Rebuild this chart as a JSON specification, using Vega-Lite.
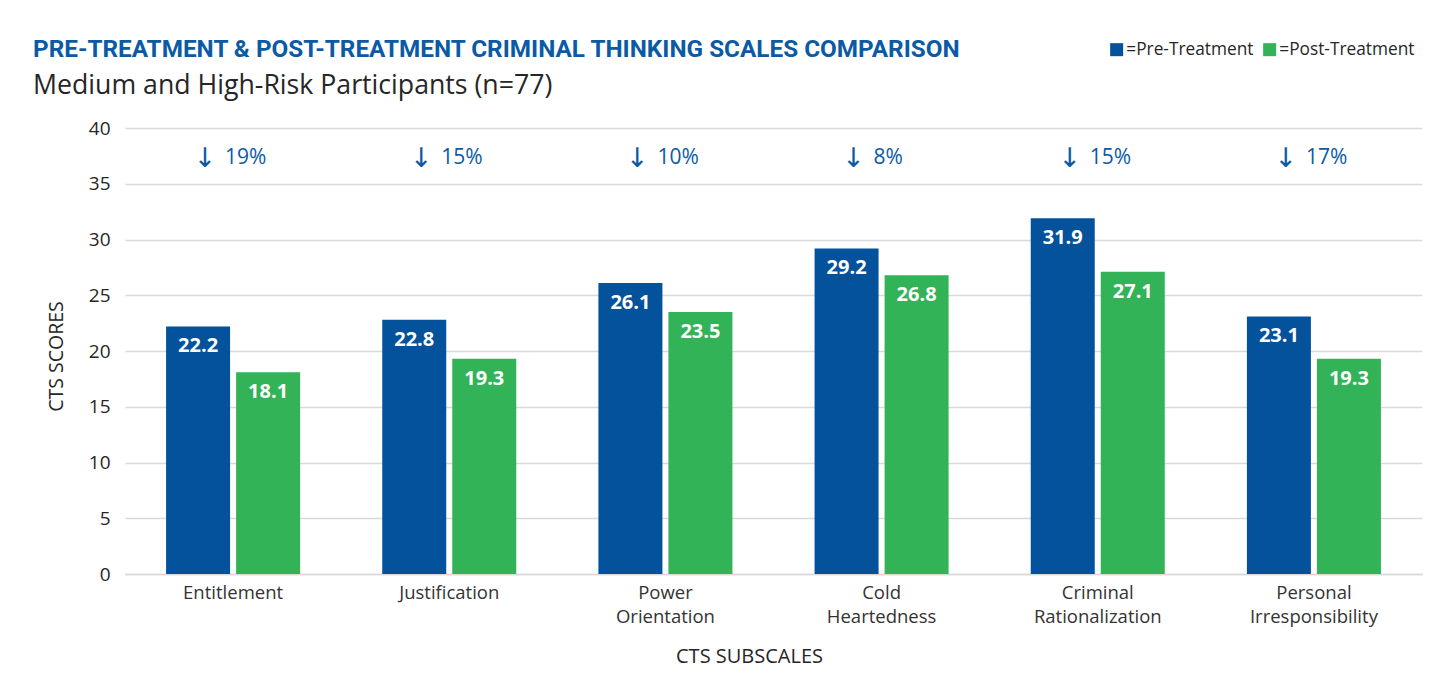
{
  "$schema": "https://vega.github.io/schema/vega-lite/v6.json",
  "width": 1297,
  "height": 446,
  "autosize": {"type": "none"},
  "padding": {"left": 125, "top": 128, "right": 26, "bottom": 103},
  "background": "white",
  "title": {
    "text": "PRE-TREATMENT & POST-TREATMENT CRIMINAL THINKING SCALES COMPARISON",
    "subtitle": "Medium and High-Risk Participants (n=77)",
    "anchor": "start",
    "frame": "group",
    "dx": -92,
    "offset": -59,
    "font": "Roboto",
    "fontSize": 24.3,
    "fontWeight": "bold",
    "color": "#0b5aa6",
    "subtitleFont": "Open Sans",
    "subtitleFontSize": 26.7,
    "subtitleColor": "#262626",
    "subtitlePadding": 11
  },
  "config": {
    "font": "Open Sans",
    "view": {"stroke": null}
  },
  "datasets": {
    "scores": [
      {"subscale": "Entitlement", "phase": "Pre-Treatment", "score": 22.2},
      {"subscale": "Entitlement", "phase": "Post-Treatment", "score": 18.1},
      {"subscale": "Justification", "phase": "Pre-Treatment", "score": 22.8},
      {"subscale": "Justification", "phase": "Post-Treatment", "score": 19.3},
      {"subscale": "Power Orientation", "phase": "Pre-Treatment", "score": 26.1},
      {"subscale": "Power Orientation", "phase": "Post-Treatment", "score": 23.5},
      {"subscale": "Cold Heartedness", "phase": "Pre-Treatment", "score": 29.2},
      {"subscale": "Cold Heartedness", "phase": "Post-Treatment", "score": 26.8},
      {"subscale": "Criminal Rationalization", "phase": "Pre-Treatment", "score": 31.9},
      {"subscale": "Criminal Rationalization", "phase": "Post-Treatment", "score": 27.1},
      {"subscale": "Personal Irresponsibility", "phase": "Pre-Treatment", "score": 23.1},
      {"subscale": "Personal Irresponsibility", "phase": "Post-Treatment", "score": 19.3}
    ],
    "changes": [
      {"subscale": "Entitlement", "arrow": "↓", "change": "19%"},
      {"subscale": "Justification", "arrow": "↓", "change": "15%"},
      {"subscale": "Power Orientation", "arrow": "↓", "change": "10%"},
      {"subscale": "Cold Heartedness", "arrow": "↓", "change": "8%"},
      {"subscale": "Criminal Rationalization", "arrow": "↓", "change": "15%"},
      {"subscale": "Personal Irresponsibility", "arrow": "↓", "change": "17%"}
    ]
  },
  "layer": [
    {
      "data": {"name": "scores"},
      "mark": {"type": "bar"},
      "encoding": {
        "x": {
          "field": "subscale", "type": "nominal",
          "sort": ["Entitlement", "Justification", "Power Orientation", "Cold Heartedness", "Criminal Rationalization", "Personal Irresponsibility"],
          "scale": {"paddingInner": 0.38, "paddingOuter": 0.19},
          "axis": {
            "title": "CTS SUBSCALES", "labelAngle": 0, "labelFontSize": 18.5, "labelColor": "#333333",
            "labelExpr": "indexof(datum.label, ' ') > 0 ? split(datum.label, ' ') : datum.label",
            "labelLineHeight": 24, "labelPadding": 9, "labelBaseline": "top",
            "ticks": false, "domainColor": "#d9d9d9", "domainWidth": 1.5,
            "titleFontSize": 20, "titleFontWeight": "normal", "titleColor": "#262626", "titlePadding": 21,
            "titleX": 624
          }
        },
        "xOffset": {
          "field": "phase", "type": "nominal",
          "sort": ["Pre-Treatment", "Post-Treatment"],
          "scale": {"paddingInner": 0.086}
        },
        "y": {
          "field": "score", "type": "quantitative",
          "scale": {"domain": [0, 40]},
          "axis": {
            "title": "CTS SCORES", "values": [0, 5, 10, 15, 20, 25, 30, 35, 40],
            "labelFontSize": 19, "labelColor": "#262626", "labelPadding": 15,
            "ticks": false, "domain": false, "gridColor": "#d9d9d9", "gridWidth": 1.5,
            "titleFontSize": 19.5, "titleFontWeight": "normal", "titleColor": "#262626", "titlePadding": 22,
            "titleY": 228
          }
        },
        "color": {
          "field": "phase", "type": "nominal",
          "sort": ["Pre-Treatment", "Post-Treatment"],
          "scale": {"domain": ["Pre-Treatment", "Post-Treatment"], "range": ["#03529b", "#33b357"]},
          "legend": {
            "title": null, "orient": "none", "direction": "horizontal",
            "legendX": 983, "legendY": -87,
            "symbolType": "square", "symbolSize": 169, "symbolStrokeWidth": 0, "symbolOpacity": 1,
            "labelExpr": "'=' + datum.label", "labelFontSize": 17.3, "labelColor": "#262626",
            "labelOffset": 1, "columnPadding": 7
          }
        }
      }
    },
    {
      "data": {"name": "scores"},
      "mark": {"type": "text", "baseline": "middle", "dy": 20, "color": "white", "fontWeight": "bold", "fontSize": 20},
      "encoding": {
        "x": {"field": "subscale", "type": "nominal", "sort": ["Entitlement", "Justification", "Power Orientation", "Cold Heartedness", "Criminal Rationalization", "Personal Irresponsibility"]},
        "xOffset": {"field": "phase", "type": "nominal", "sort": ["Pre-Treatment", "Post-Treatment"]},
        "y": {"field": "score", "type": "quantitative"},
        "text": {"field": "score", "type": "quantitative", "format": ".1f"}
      }
    },
    {
      "data": {"name": "changes"},
      "mark": {"type": "text", "baseline": "middle", "align": "center", "dx": -28, "dy": 1, "color": "#0b5aa6", "fontSize": 27, "font": "DejaVu Sans"},
      "encoding": {
        "x": {"field": "subscale", "type": "nominal", "sort": ["Entitlement", "Justification", "Power Orientation", "Cold Heartedness", "Criminal Rationalization", "Personal Irresponsibility"]},
        "y": {"datum": 37.3, "type": "quantitative"},
        "text": {"field": "arrow", "type": "nominal"}
      }
    },
    {
      "data": {"name": "changes"},
      "mark": {"type": "text", "baseline": "middle", "align": "left", "dx": -8, "color": "#0b5aa6", "fontSize": 21},
      "encoding": {
        "x": {"field": "subscale", "type": "nominal", "sort": ["Entitlement", "Justification", "Power Orientation", "Cold Heartedness", "Criminal Rationalization", "Personal Irresponsibility"]},
        "y": {"datum": 37.3, "type": "quantitative"},
        "text": {"field": "change", "type": "nominal"}
      }
    }
  ]
}
